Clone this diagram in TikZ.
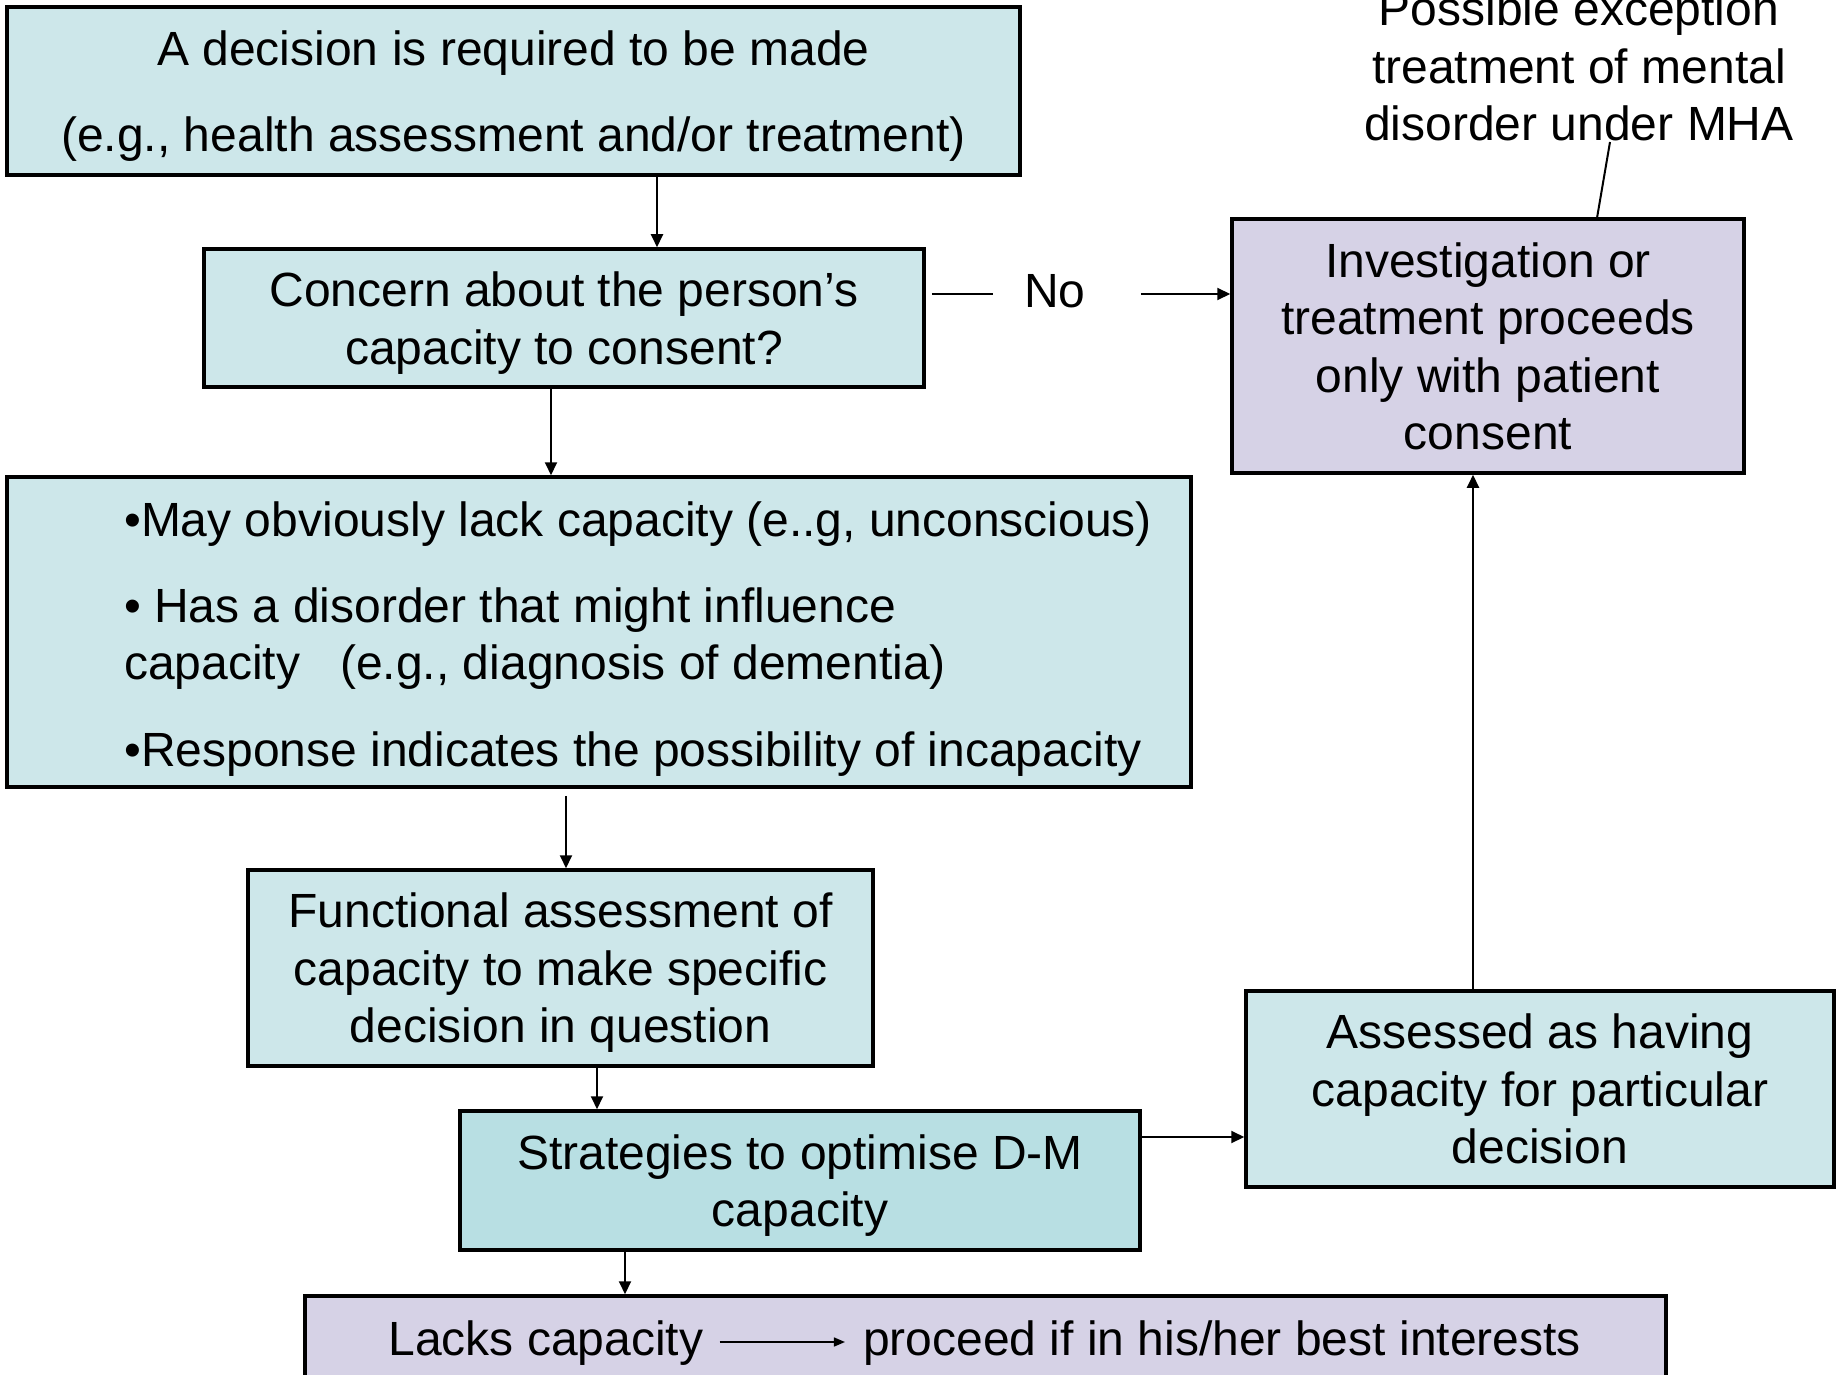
\documentclass[tikz,border=0pt]{standalone}
\usepackage{fontspec}
\setmainfont{Liberation Sans}
\usetikzlibrary{arrows.meta,calc}
\definecolor{tealbox}{RGB}{205,231,234}
\definecolor{tealdark}{RGB}{184,223,227}
\definecolor{lilac}{RGB}{214,210,230}
\begin{document}
\begin{tikzpicture}[x=1pt,y=-1pt,
  every node/.style={font=\fontsize{48}{57.5}\selectfont, inner sep=0pt, text depth=0pt},
  box/.style={draw=black, line width=3.5pt, rectangle, align=center},
  arr/.style={line width=2pt, -{Triangle[length=13pt,width=12pt]}},
  ln/.style={line width=2pt}]
\clip (0,0) rectangle (1845,1375);
\fill[white] (0,0) rectangle (1845,1375);
% boxes
\node[box, fill=tealbox, minimum width=1013pt, minimum height=168pt] (b1) at (513.5,91)
  {A decision is required to be made\\[28.5pt](e.g., health assessment and/or treatment)};
\node[box, fill=tealbox, minimum width=720pt, minimum height=138pt] (b2) at (564,318)
  {Concern about the person’s\\capacity to consent?};
\node[box, fill=lilac, minimum width=512pt, minimum height=254pt] (b3) at (1488,346)
  {Investigation or\\treatment proceeds\\only with patient\\consent};
\node[box, fill=tealbox, minimum width=1184pt, minimum height=310pt] (b4) at (599,632) {};
\node[anchor=west, align=left] (t4) at (124,634)
  {•May obviously lack capacity (e..g, unconscious)\\[28.5pt]
   • Has a disorder that might influence\\
   capacity\ \ \ (e.g., diagnosis of dementia)\\[29.5pt]
   •Response indicates the possibility of incapacity};
\node[box, fill=tealbox, minimum width=625pt, minimum height=196pt] (b5) at (560.5,968)
  {Functional assessment of\\capacity to make specific\\decision in question};
\node[box, fill=tealdark, minimum width=680pt, minimum height=139pt] (b6) at (800,1180.5)
  {Strategies to optimise D-M\\capacity};
\node[box, fill=tealbox, minimum width=588pt, minimum height=196pt] (b7) at (1540,1089)
  {Assessed as having\\capacity for particular\\decision};
\node[box, fill=lilac, minimum width=1361pt, minimum height=84pt] (b8) at (985.5,1338) {};
\node (l1) at (546,1338) {Lacks capacity};
\node (l2) at (1222,1338) {proceed if in his/her best interests};
% annotation
\node[align=center] (ann) at (1579,66)
  {Possible exception\\treatment of mental\\disorder under MHA};
\node (no) at (1055,291) {No};
% connectors
\draw[arr] ([xshift=143.5pt]b1.south) -- ([xshift=143.5pt]b1.south |- b2.north);
\draw[arr] ([xshift=-13pt]b2.south) -- ([xshift=-13pt]b2.south |- b4.north);
\draw[arr] ([xshift=-33pt,yshift=-7pt]b4.south) -- ([xshift=-33pt]b4.south |- b5.north);
\draw[arr] ([xshift=36.5pt]b5.south) -- ([xshift=36.5pt]b5.south |- b6.north);
\draw[arr] ([yshift=43.5pt]b6.east) -- ([yshift=43.5pt]b6.east -| b7.west);
\draw[arr] ([xshift=-67pt]b7.north) -- ([xshift=-67pt]b7.north |- b3.south);
\draw[arr] ([xshift=-175pt]b6.south) -- ([xshift=-175pt]b6.south |- b8.north);
\draw[ln] ($(b2.east |- no.west)+(6,3)$) -- ($(no.west)+(-31,3)$);
\draw[arr] ($(no.east)+(55,3)$) -- ($(b3.west |- no.east)+(0,3)$);
\draw[line width=1.5pt, -{Triangle[length=11pt,width=9pt]}] ($(l1.east)+(16,4)$) -- ($(l2.west)+(-18,4)$);
\coordinate (lt) at (1610,142);
\coordinate (lb) at (1597,218);
\draw[ln] (lt) -- (lb);
\end{tikzpicture}
\end{document}
